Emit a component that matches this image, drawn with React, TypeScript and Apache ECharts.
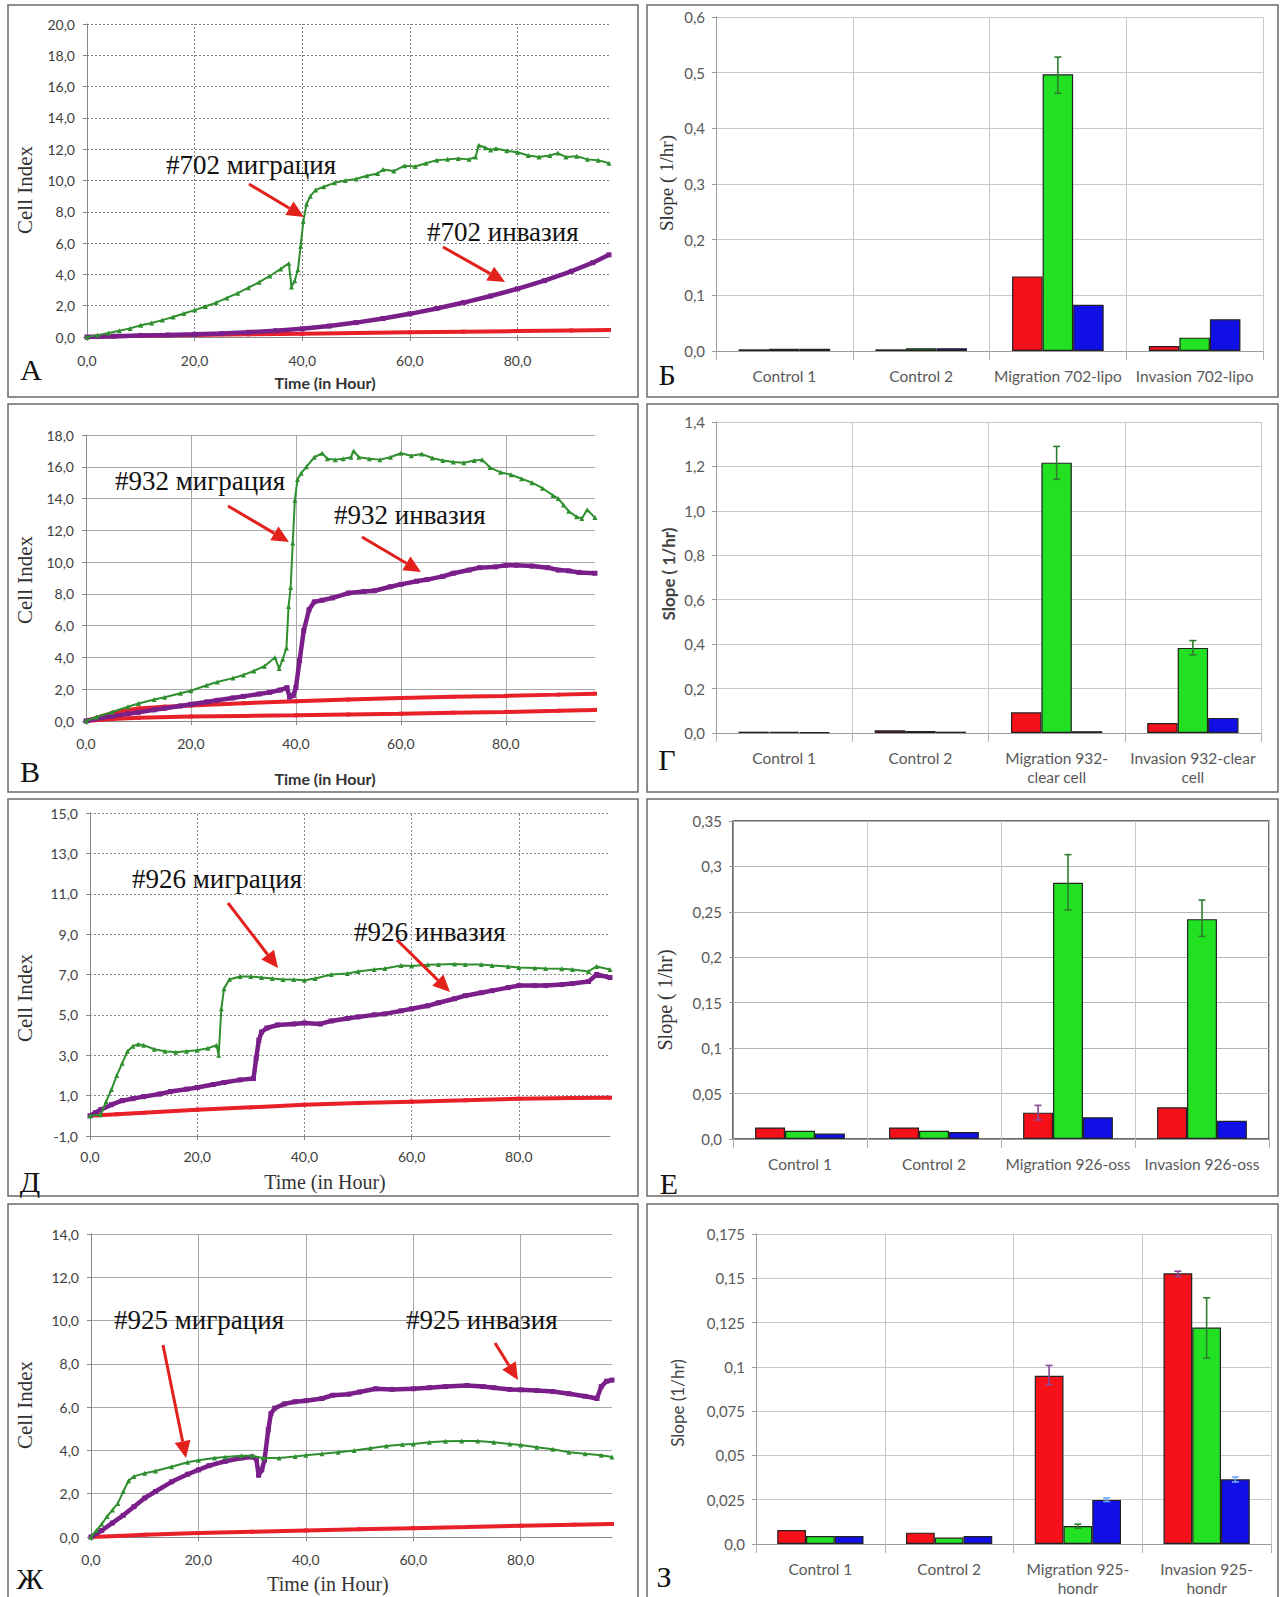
import React, { useEffect, useRef } from "react";
import * as echarts from "echarts";

// ---------------- DATA ----------------
// Panel А — #702 (time in hours, Cell Index)
const A_MIGRATION: [number, number][] = [[0,0],[2,0.12],[4,0.25],[6,0.4],[8,0.55],[10,0.75],[12,0.9],[14,1.08],[16,1.28],[18,1.5],[20,1.72],[22,1.95],[24,2.2],[26,2.5],[28,2.8],[30,3.15],[32,3.5],[34,3.9],[36,4.35],[37.5,4.7],[38,3.2],[38.6,3.6],[39.2,4.3],[39.7,5.8],[40.2,7.4],[40.8,8.5],[41.5,9.0],[42.5,9.4],[44,9.6],[46,9.85],[48,10.0],[50,10.1],[52,10.3],[54,10.45],[55,10.7],[57,10.6],[59,10.95],[61,10.9],[63,11.1],[65,11.3],[67,11.35],[69,11.4],[71,11.35],[72.2,11.5],[72.8,12.25],[74,12.1],[75,11.95],[76,12.05],[78,11.9],[80,11.8],[82,11.6],[84,11.5],[86,11.6],[87.5,11.75],[89,11.5],[91,11.55],[93,11.35],[95,11.3],[97,11.1]];
const A_INVASION: [number, number][] = [[0,0],[5,0.05],[10,0.1],[15,0.13],[20,0.17],[25,0.22],[30,0.3],[35,0.4],[40,0.52],[45,0.7],[50,0.92],[55,1.18],[60,1.48],[65,1.82],[70,2.2],[75,2.62],[80,3.08],[85,3.6],[90,4.2],[94,4.75],[97,5.25]];
const A_CONTROL: [number, number][] = [[0,0],[10,0.08],[20,0.13],[30,0.17],[40,0.21],[50,0.26],[60,0.3],[70,0.34],[80,0.38],[90,0.42],[97,0.45]];

// Panel В — #932
const V_MIGRATION: [number, number][] = [[0,0],[2,0.25],[5,0.57],[8,0.9],[10,1.1],[13,1.35],[15,1.5],[18,1.75],[20,1.9],[23,2.25],[25,2.45],[28,2.7],[30,2.9],[32,3.15],[34,3.45],[36,4.0],[36.8,3.3],[37.5,3.9],[38.2,4.6],[38.6,7.2],[39,8.4],[39.4,11.2],[39.8,13.9],[40.3,15.2],[41,15.6],[42,16.0],[43.5,16.6],[45,16.85],[46,16.5],[47.5,16.45],[49,16.5],[50.5,16.6],[51,17.0],[52,16.6],[54,16.5],[56,16.45],[58,16.6],[60,16.85],[62,16.7],[64,16.8],[66,16.55],[68,16.4],[70,16.3],[72,16.25],[74,16.4],[75.5,16.45],[77,15.95],[79,15.65],[81,15.5],[83,15.25],[85,15.0],[87,14.65],[89,14.2],[90,14.0],[91,13.6],[92,13.2],[93.5,12.85],[94.5,12.75],[95.5,13.3],[97,12.8]];
const V_INVASION: [number, number][] = [[0,0],[3,0.2],[5,0.3],[8,0.45],[10,0.55],[13,0.7],[15,0.8],[18,0.95],[20,1.05],[23,1.2],[25,1.3],[28,1.45],[30,1.55],[33,1.7],[35,1.8],[37,1.95],[38.3,2.1],[38.8,1.5],[39.5,1.6],[40,2.1],[40.7,3.8],[41.5,5.7],[42.5,7.0],[43.5,7.5],[45,7.6],[47,7.75],[50,8.05],[53,8.15],[55,8.2],[58,8.45],[60,8.6],[63,8.8],[65,8.9],[68,9.1],[70,9.3],[73,9.5],[75,9.65],[78,9.7],[80,9.8],[82,9.8],[85,9.75],[88,9.65],[90,9.5],[92,9.45],[94,9.35],[97,9.3]];
const V_CONTROL_1: [number, number][] = [[0,0],[3,0.3],[5,0.5],[8,0.7],[10,0.78],[15,0.9],[20,0.98],[30,1.12],[40,1.24],[50,1.35],[60,1.45],[70,1.52],[80,1.58],[90,1.66],[97,1.72]];
const V_CONTROL_2: [number, number][] = [[0,0],[5,0.12],[10,0.2],[20,0.28],[30,0.32],[40,0.36],[50,0.41],[60,0.46],[70,0.52],[80,0.57],[90,0.64],[97,0.7]];

// Panel Д — #926
const D_MIGRATION: [number, number][] = [[0,0],[2,0.05],[3,0.7],[4,1.3],[5,2.0],[6,2.6],[7,3.2],[8,3.45],[9,3.55],[10,3.5],[12,3.3],[14,3.2],[16,3.15],[18,3.2],[20,3.25],[22,3.35],[23.6,3.5],[24,3.0],[24.5,5.3],[25,6.3],[26,6.75],[28,6.9],[30,6.9],[32,6.85],[34,6.8],[36,6.75],[38,6.75],[40,6.72],[42,6.8],[45,7.0],[48,7.05],[50,7.15],[53,7.25],[55,7.3],[58,7.45],[60,7.42],[63,7.48],[65,7.5],[68,7.52],[70,7.5],[73,7.5],[75,7.45],[78,7.4],[80,7.35],[83,7.32],[85,7.3],[88,7.28],[90,7.25],[93,7.15],[94.5,7.4],[97,7.25]];
const D_INVASION: [number, number][] = [[0,0],[1,0.15],[2,0.3],[4,0.55],[6,0.75],[8,0.85],[10,0.95],[13,1.08],[15,1.2],[18,1.32],[20,1.4],[23,1.55],[25,1.65],[28,1.78],[30.5,1.85],[31,2.85],[31.5,3.75],[32,4.15],[33,4.35],[35,4.5],[38,4.55],[40,4.6],[43,4.55],[45,4.7],[48,4.82],[50,4.9],[53,5.0],[55,5.05],[58,5.2],[60,5.3],[63,5.45],[65,5.6],[68,5.8],[70,5.95],[73,6.1],[75,6.2],[78,6.35],[80,6.45],[83,6.45],[85,6.45],[88,6.5],[90,6.55],[93,6.65],[94.5,7.0],[97,6.85]];
const D_CONTROL: [number, number][] = [[0,0],[5,0.08],[10,0.15],[20,0.3],[30,0.42],[40,0.55],[50,0.63],[60,0.7],[70,0.77],[80,0.85],[90,0.88],[97,0.9]];

// Panel Ж — #925
const ZH_MIGRATION: [number, number][] = [[0,0],[1,0.3],[2,0.6],[3,0.95],[4,1.25],[5,1.55],[6,2.1],[7,2.6],[8,2.8],[10,2.95],[12,3.05],[15,3.25],[18,3.45],[20,3.55],[23,3.65],[25,3.7],[28,3.75],[30,3.75],[32,3.65],[35,3.65],[38,3.72],[40,3.78],[43,3.85],[46,3.92],[49,4.0],[52,4.1],[55,4.2],[58,4.27],[60,4.3],[63,4.38],[66,4.42],[69,4.43],[72,4.43],[75,4.38],[78,4.3],[80,4.25],[83,4.15],[86,4.05],[89,3.92],[92,3.85],[95,3.78],[97,3.7]];
const ZH_INVASION: [number, number][] = [[0,0],[2,0.3],[4,0.65],[6,1.0],[8,1.4],[10,1.8],[12,2.1],[15,2.55],[18,2.9],[20,3.1],[22,3.3],[25,3.5],[28,3.65],[30,3.7],[30.8,3.6],[31.2,2.85],[31.8,3.1],[32.3,3.55],[33,4.95],[33.5,5.7],[34.2,5.95],[36,6.15],[38,6.25],[40,6.3],[43,6.4],[45,6.55],[48,6.6],[50,6.7],[53,6.85],[56,6.82],[60,6.85],[63,6.9],[66,6.95],[70,7.0],[73,6.95],[75,6.9],[78,6.82],[80,6.8],[83,6.77],[86,6.72],[89,6.62],[92,6.5],[94.2,6.4],[95,6.95],[96,7.2],[97,7.25]];
const ZH_CONTROL: [number, number][] = [[0,0],[5,0.05],[10,0.1],[20,0.18],[30,0.24],[40,0.3],[50,0.36],[60,0.41],[70,0.46],[80,0.52],[90,0.57],[97,0.6]];

const X_GRID_LINES = [20, 40, 60, 80];

// Bar panels — slope (1/hr): red, green, blue per category
const B1_CATS = ["Control 1", "Control 2", "Migration 702-lipo", "Invasion 702-lipo"];
const B1_RED = [0.003, 0.003, 0.134, 0.009];
const B1_GREEN = [0.004, 0.005, 0.497, 0.024];
const B1_BLUE = [0.004, 0.005, 0.083, 0.057];
const B1_GREEN_ERR = [null, null, [0.463, 0.528], null];

const G_CATS = ["Control 1", "Control 2", "Migration 932-\nclear cell", "Invasion 932-clear\ncell"];
const G_RED = [0.006, 0.012, 0.093, 0.045];
const G_GREEN = [0.005, 0.009, 1.217, 0.383];
const G_BLUE = [0.003, 0.006, 0.008, 0.068];
const G_GREEN_ERR = [null, null, [1.142, 1.29], [0.352, 0.416]];

const E_CATS = ["Control 1", "Control 2", "Migration 926-oss", "Invasion 926-oss"];
const E_RED = [0.0127, 0.0127, 0.029, 0.035];
const E_GREEN = [0.009, 0.009, 0.282, 0.242];
const E_BLUE = [0.006, 0.0076, 0.024, 0.02];
const E_RED_ERR = [null, null, [0.021, 0.037], null];
const E_GREEN_ERR = [null, null, [0.252, 0.313], [0.223, 0.263]];

const Z_CATS = ["Control 1", "Control 2", "Migration 925-\nhondr", "Invasion 925-\nhondr"];
const Z_RED = [0.0079, 0.0064, 0.095, 0.1528];
const Z_GREEN = [0.0045, 0.0036, 0.0102, 0.1222];
const Z_BLUE = [0.0045, 0.0045, 0.0249, 0.0365];
const Z_RED_ERR = [null, null, [0.09, 0.1008], [0.151, 0.154]];
const Z_GREEN_ERR = [null, null, [0.009, 0.0112], [0.105, 0.139]];
const Z_BLUE_ERR = [null, null, [0.024, 0.026], [0.035, 0.0378]];

// ---------------- STYLE ----------------
const SERIF = '"Liberation Serif", "Times New Roman", serif';
const SANS = 'Lato, "Open Sans", sans-serif';
const C_GREEN_LINE = "#2f8f2f";
const C_PURPLE = "#7a1f8a";
const C_RED_LINE = "#e8202a";
const C_ARROW = "#e3211c";
const BAR_RED = "#f5101a";
const BAR_GREEN = "#22e022";
const BAR_BLUE = "#1010e6";
const ERR_COLORS = ["#8a4a9a", "#2e7d2e", "#6aa8ff"];
const BAR_GAP = 0.33;

const fmt1 = (v: number) => v.toFixed(1).replace(".", ",");
const fmtTrim = (v: number) => (Math.abs(v) < 1e-9 ? "0,0" : String(parseFloat(v.toFixed(3))).replace(".", ","));

function buildOption() {
  const grids: any[] = [];
  const xAxes: any[] = [];
  const yAxes: any[] = [];
  const series: any[] = [];
  const graphics: any[] = [];

  // ---- line panels ----
  const linePanels = [
    { idx: 0, grid: { left: 87, top: 24, width: 522, height: 313 }, yMax: 20, off: 0, gType: [2, 2] as any, gColor: "#808080", xMargin: 16,
      green: A_MIGRATION, purple: A_INVASION, reds: [A_CONTROL] },
    { idx: 2, grid: { left: 86, top: 435, width: 509, height: 286 }, yMax: 18, off: 0, gType: "solid", gColor: "#a8a8a8", xMargin: 15,
      green: V_MIGRATION, purple: V_INVASION, reds: [V_CONTROL_1, V_CONTROL_2] },
    { idx: 4, grid: { left: 90, top: 813, width: 520, height: 323 }, yMax: 16, off: 1, gType: [2, 2] as any, gColor: "#8a8a8a", xMargin: 13,
      green: D_MIGRATION, purple: D_INVASION, reds: [D_CONTROL] },
    { idx: 6, grid: { left: 91, top: 1234, width: 521, height: 303 }, yMax: 14, off: 0, gType: "solid", gColor: "#a8a8a8", xMargin: 15,
      green: ZH_MIGRATION, purple: ZH_INVASION, reds: [ZH_CONTROL] },
  ];

  // ---- bar panels ----
  const none4 = [null, null, null, null];
  const barPanels = [
    { idx: 1, grid: { left: 716, top: 17, width: 547, height: 334 }, cats: B1_CATS, max: 0.6, interval: 0.1, fmt: fmt1,
      red: B1_RED, green: B1_GREEN, blue: B1_BLUE, errs: [none4, B1_GREEN_ERR, none4], box: false },
    { idx: 3, grid: { left: 716, top: 422, width: 545, height: 311 }, cats: G_CATS, max: 1.4, interval: 0.2, fmt: fmt1,
      red: G_RED, green: G_GREEN, blue: G_BLUE, errs: [none4, G_GREEN_ERR, none4], box: false },
    { idx: 5, grid: { left: 733, top: 821, width: 536, height: 318 }, cats: E_CATS, max: 0.35, interval: 0.05, fmt: fmtTrim,
      red: E_RED, green: E_GREEN, blue: E_BLUE, errs: [E_RED_ERR, E_GREEN_ERR, none4], box: true },
    { idx: 7, grid: { left: 756, top: 1234, width: 515, height: 310 }, cats: Z_CATS, max: 0.175, interval: 0.025, fmt: fmtTrim,
      red: Z_RED, green: Z_GREEN, blue: Z_BLUE, errs: [Z_RED_ERR, Z_GREEN_ERR, Z_BLUE_ERR], box: false },
  ];

  const slots: any[] = new Array(8);
  linePanels.forEach((p) => (slots[p.idx] = { kind: "line", p }));
  barPanels.forEach((p) => (slots[p.idx] = { kind: "bar", p }));

  slots.forEach((s, idx) => {
    const p = s.p;
    if (s.kind === "line") {
      grids.push({ ...p.grid, outerBoundsMode: "none", containLabel: false });
      xAxes.push({
        type: "value", gridIndex: idx, min: 0, max: 97, interval: 20,
        axisLine: { show: true, onZero: false, lineStyle: { color: "#888" } },
        axisTick: { show: true, length: 4, lineStyle: { color: "#888" } },
        axisLabel: { formatter: fmt1, showMaxLabel: false, color: "#404040", fontFamily: SANS, fontSize: 14, margin: p.xMargin },
        splitLine: { show: false },
      });
      const off = p.off;
      yAxes.push({
        type: "value", gridIndex: idx, min: 0, max: p.yMax, interval: 2,
        axisLine: { show: true, lineStyle: { color: "#888" } },
        axisTick: { show: true, length: 4, lineStyle: { color: "#888" } },
        axisLabel: { formatter: (v: number) => fmt1(v - off), color: "#404040", fontFamily: SANS, fontSize: 14, margin: 12 },
        splitLine: { show: true, lineStyle: { color: p.gColor, type: p.gType, width: 1 } },
      });
      const shift = (d: [number, number][]) => d.map(([t, v]) => [t, v + off]);
      p.reds.forEach((r: [number, number][]) =>
        series.push({
          type: "line", xAxisIndex: idx, yAxisIndex: idx, data: shift(r), symbol: "rect", symbolSize: 4, showSymbol: true,
          lineStyle: { color: C_RED_LINE, width: 4 }, itemStyle: { color: C_RED_LINE }, z: 2,
        })
      );
      series.push({
        type: "line", xAxisIndex: idx, yAxisIndex: idx, data: shift(p.purple), symbol: "rect", symbolSize: 5, showSymbol: true,
        lineStyle: { color: C_PURPLE, width: 4.5 }, itemStyle: { color: C_PURPLE }, z: 3,
      });
      series.push({
        type: "line", xAxisIndex: idx, yAxisIndex: idx, data: shift(p.green), symbol: "triangle", symbolSize: 5, showSymbol: true,
        lineStyle: { color: C_GREEN_LINE, width: 2 }, itemStyle: { color: C_GREEN_LINE }, z: 4,
        markLine: {
          silent: true, symbol: "none", label: { show: false }, z: 1,
          lineStyle: { color: p.gColor, type: p.gType, width: 1 },
          data: X_GRID_LINES.map((x) => ({ xAxis: x })),
        },
      });
    } else {
      grids.push({
        ...p.grid, outerBoundsMode: "none", containLabel: false,
        show: p.box, borderColor: "#3a3a3a", borderWidth: 1.5, backgroundColor: "transparent",
      });
      xAxes.push({
        type: "category", gridIndex: idx, data: p.cats,
        axisLine: { show: true, lineStyle: { color: "#9a9a9a" } },
        axisTick: { show: true, length: 9, lineStyle: { color: "#b0b0b0" } },
        axisLabel: { interval: 0, color: "#595959", fontFamily: SANS, fontSize: 15.5, margin: 15, lineHeight: 19 },
        splitLine: { show: true, lineStyle: { color: "#c8c8c8" } },
      });
      yAxes.push({
        type: "value", gridIndex: idx, min: 0, max: p.max, interval: p.interval,
        axisLine: { show: true, lineStyle: { color: "#9a9a9a" } },
        axisTick: { show: true, length: 4, lineStyle: { color: "#9a9a9a" } },
        axisLabel: { formatter: p.fmt, color: "#595959", fontFamily: SANS, fontSize: 15, margin: 11 },
        splitLine: { show: true, lineStyle: { color: p.box ? "#b4b4b4" : "#c8c8c8" } },
      });
      const barBase = {
        type: "bar", xAxisIndex: idx, yAxisIndex: idx, barGap: "0%", barCategoryGap: `${BAR_GAP * 100}%`,
      };
      series.push({ ...barBase, data: p.red, itemStyle: { color: BAR_RED, borderColor: "#222", borderWidth: 1.2 } });
      series.push({ ...barBase, data: p.green, itemStyle: { color: BAR_GREEN, borderColor: "#222", borderWidth: 1.2 } });
      series.push({ ...barBase, data: p.blue, itemStyle: { color: BAR_BLUE, borderColor: "#222", borderWidth: 1.2 } });
      const errData: any[] = [];
      p.errs.forEach((arr: any[], sIdx: number) =>
        arr.forEach((e: any, cIdx: number) => {
          if (e) errData.push([cIdx, e[0], e[1], sIdx]);
        })
      );
      series.push({
        type: "custom", xAxisIndex: idx, yAxisIndex: idx, z: 10, data: errData,
        encode: { x: 0, y: [1, 2] },
        renderItem: (params: any, api: any) => {
          const c = api.value(0), lo = api.value(1), hi = api.value(2), sI = api.value(3);
          const band = api.size([1, 0])[0];
          const bw = (band * (1 - BAR_GAP)) / 3;
          const p1 = api.coord([c, lo]);
          const p2 = api.coord([c, hi]);
          const x = p1[0] + (sI - 1) * bw;
          const col = ERR_COLORS[sI];
          const st = { stroke: col, lineWidth: 1.6 };
          return {
            type: "group",
            children: [
              { type: "line", shape: { x1: x, y1: p1[1], x2: x, y2: p2[1] }, style: st },
              { type: "line", shape: { x1: x - 3.5, y1: p2[1], x2: x + 3.5, y2: p2[1] }, style: st },
              { type: "line", shape: { x1: x - 3.5, y1: p1[1], x2: x + 3.5, y2: p1[1] }, style: st },
            ],
          };
        },
      });
    }
  });

  // ---- panel borders ----
  const rows = [[5, 397], [404, 792], [799, 1196], [1204, 1602]];
  const cols = [[8, 638], [647, 1278]];
  rows.forEach(([y1, y2]) =>
    cols.forEach(([x1, x2]) =>
      graphics.push({ type: "rect", shape: { x: x1, y: y1, width: x2 - x1, height: y2 - y1 }, style: { fill: "none", stroke: "#6a6a6a", lineWidth: 1.5 }, z: 0 })
    )
  );

  const txt = (text: string, x: number, y: number, font: string, size: number, opts: any = {}) => ({
    type: "text", x, y, rotation: opts.rotation || 0, z: 20,
    style: { text, fill: opts.fill || "#222", font: `${opts.weight || "normal"} ${size}px ${font}`, align: opts.align || "center", verticalAlign: "middle" },
  });

  // panel letters
  [["А", 31, 369], ["Б", 667, 374], ["В", 30, 771], ["Г", 667, 759], ["Д", 30, 1181], ["Е", 669, 1183], ["Ж", 30, 1578], ["З", 664, 1576]].forEach(
    ([t, x, y]) => graphics.push(txt(t as string, x as number, y as number, SERIF, 30, { fill: "#111" }))
  );

  // axis titles of line panels
  const rot = Math.PI / 2;
  [190, 580, 998, 1405].forEach((y) => graphics.push(txt("Cell Index", 25, y, SERIF, 21, { rotation: rot, fill: "#333" })));
  graphics.push(txt("Time (in Hour)", 325, 382, SANS, 16, { weight: "bold", fill: "#333" }));
  graphics.push(txt("Time (in Hour)", 325, 778, SANS, 16, { weight: "bold", fill: "#333" }));
  graphics.push(txt("Time (in Hour)", 325, 1182, SERIF, 20, { fill: "#333" }));
  graphics.push(txt("Time (in Hour)", 328, 1584, SERIF, 20, { fill: "#333" }));

  // axis titles of bar panels
  graphics.push(txt("Slope ( 1/hr)", 666, 183, SERIF, 19, { rotation: rot, fill: "#333" }));
  graphics.push(txt("Slope ( 1/hr)", 668, 574, SANS, 17, { rotation: rot, fill: "#444", weight: "bold" }));
  graphics.push(txt("Slope ( 1/hr)", 665, 1000, SERIF, 20, { rotation: rot, fill: "#333" }));
  graphics.push(txt("Slope (1/hr)", 677, 1403, SANS, 17, { rotation: rot, fill: "#444" }));

  // annotations
  const notes: [string, number, number][] = [
    ["#702 миграция", 166, 165], ["#702 инвазия", 427, 232],
    ["#932 миграция", 115, 481], ["#932 инвазия", 334, 515],
    ["#926 миграция", 132, 879], ["#926 инвазия", 354, 932],
    ["#925 миграция", 114, 1320], ["#925 инвазия", 406, 1320],
  ];
  notes.forEach(([t, x, y]) => graphics.push(txt(t, x, y, SERIF, 27, { align: "left", fill: "#111" })));

  const arrow = (x1: number, y1: number, x2: number, y2: number) => {
    const a = Math.atan2(y2 - y1, x2 - x1);
    const L = 17, W = 8;
    const bx = x2 - L * Math.cos(a), by = y2 - L * Math.sin(a);
    const px = -Math.sin(a), py = Math.cos(a);
    graphics.push({ type: "line", z: 21, shape: { x1, y1, x2: bx, y2: by }, style: { stroke: C_ARROW, lineWidth: 3 } });
    graphics.push({ type: "polygon", z: 21, shape: { points: [[x2, y2], [bx + px * W, by + py * W], [bx - px * W, by - py * W]] }, style: { fill: C_ARROW } });
  };
  arrow(249, 184, 304, 217);
  arrow(443, 247, 505, 282);
  arrow(228, 506, 289, 542);
  arrow(362, 537, 421, 572);
  arrow(228, 903, 278, 968);
  arrow(397, 940, 450, 992);
  arrow(163, 1345, 186, 1458);
  arrow(495, 1343, 518, 1380);

  return {
    animation: false,
    backgroundColor: "#fff",
    grid: grids,
    xAxis: xAxes,
    yAxis: yAxes,
    series,
    graphic: graphics,
  };
}

export default function App() {
  const ref = useRef<HTMLDivElement>(null);
  useEffect(() => {
    if (!ref.current) return;
    const chart = echarts.init(ref.current, null, { renderer: "svg" });
    chart.setOption(buildOption() as any);
    return () => chart.dispose();
  }, []);
  return (
    <div
      ref={ref}
      style={{ position: "absolute", left: 0, top: 0, width: 1283, height: 1597, background: "#fff" }}
    />
  );
}
